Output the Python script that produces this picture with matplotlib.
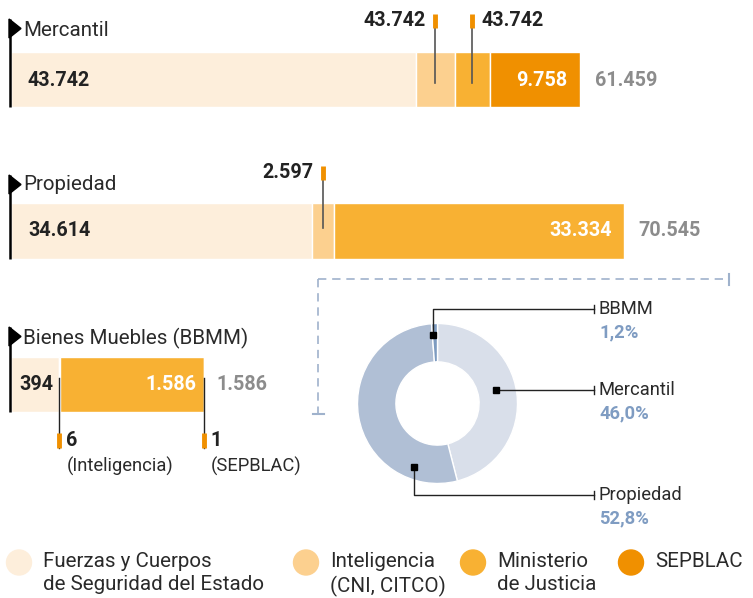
import matplotlib.pyplot as plt
from matplotlib.patches import Polygon, Ellipse
from matplotlib.transforms import blended_transform_factory as blend

W, H = 753, 598
plt.rcParams["font.family"] = ["Roboto", "DejaVu Sans"]

# Data
agencies = ["Fuerzas y Cuerpos\nde Seguridad del Estado", "Inteligencia\n(CNI, CITCO)",
            "Ministerio\nde Justicia", "SEPBLAC"]
agency_colors = ["#fdeedb", "#fcd08f", "#f8b133", "#f09000"]

registries = ["Mercantil", "Propiedad", "Bienes Muebles (BBMM)"]
pie_names = ["Mercantil", "Propiedad", "BBMM"]
mercantil = [43742, 4190, 3769, 9758]
propiedad = [34614, 2597, 33334, 0]
bbmm = [394, 6, 1185, 1]
totals = [61459, 70545, 1586]

# printed labels (as shown in the source graphic)
mercantil_labels = ["43.742", "43.742", "43.742", "9.758"]
propiedad_labels = ["34.614", "2.597", "33.334", ""]
bbmm_labels = ["394", "6", "1.586", "1"]
total_labels = ["61.459", "70.545", "1.586"]
pie_colors = ["#d9dfea", "#b0bfd5", "#7d9bc0"]

GRAY = "#8c8c8c"
BLUE = "#7f9cc2"
DARK = "#222222"
TXT = "#2a2a2a"
NUM = 14.2

fig = plt.figure(figsize=(W / 100, H / 100), dpi=100)

# overlay axes in pixel coordinates
ax0 = fig.add_axes([0, 0, 1, 1])
ax0.set_xlim(0, W)
ax0.set_ylim(H, 0)
ax0.axis("off")
ax0.set_zorder(10)
ax0.patch.set_visible(False)


def px_axes(x, y, w, h):
    return fig.add_axes([x / W, 1 - (y + h) / H, w / W, h / H])


def draw_bar(values, box):
    ax = px_axes(*box)
    left = 0
    for v, c in zip(values, agency_colors):
        if v > 0:
            ax.barh(0.5, v, left=left, height=1, color=c, edgecolor="white", linewidth=1)
        left += v
    ax.set_xlim(0, sum(values))
    ax.set_ylim(0, 1)
    ax.axis("off")
    return ax


def seg_center(values, i):
    return sum(values[:i]) + values[i] / 2


def flag(top, bottom, title, ty):
    ax0.plot([10, 10], [top, bottom], color="black", lw=1.8, solid_capstyle="butt")
    ax0.add_patch(Polygon([(9, top), (9, top + 19), (21, top + 9.5)], closed=True, color="black"))
    ax0.text(23, ty, title, fontsize=14.8, color=TXT, va="center", ha="left")


def end_labels(ax, values, y, inner, total, inner_end, pad_in, pad_out):
    tr = (ax.transData, ax0.transData)
    ax0.annotate(inner, xy=(inner_end, y), xycoords=tr, xytext=(-pad_in, 0),
                 textcoords="offset points", ha="right", va="center",
                 fontsize=NUM, fontweight="bold", color="white")
    ax0.annotate(total, xy=(sum(values), y), xycoords=tr, xytext=(pad_out, 0),
                 textcoords="offset points", ha="left", va="center",
                 fontsize=NUM, fontweight="bold", color=GRAY)


# ---- Mercantil
axm = draw_bar(mercantil, (11, 52, 569, 55))
flag(19, 107, registries[0], 30)
ax0.text(28, 80, mercantil_labels[0], fontsize=NUM, fontweight="bold", color=DARK, va="center")
end_labels(axm, mercantil, 80, mercantil_labels[3], total_labels[0], sum(mercantil), 9, 11)

# ---- Propiedad
axp = draw_bar(propiedad, (11, 203, 613, 56))
flag(175, 259, registries[1], 185)
ax0.text(28, 231, propiedad_labels[0], fontsize=NUM, fontweight="bold", color=DARK, va="center")
end_labels(axp, propiedad, 231, propiedad_labels[2], total_labels[1], sum(propiedad), 9, 10)

# ---- BBMM
axb = draw_bar(bbmm, (11, 357, 193, 55))
flag(327, 412, registries[2], 338)
ax0.text(19, 385, bbmm_labels[0], fontsize=NUM, fontweight="bold", color=DARK, va="center")
end_labels(axb, bbmm, 385, bbmm_labels[2], total_labels[2], sum(bbmm[:3]), 5, 9)

# ---- callouts above bars
up_callouts = [
    (axm, seg_center(mercantil, 1), 14, 83, mercantil_labels[1], "left"),
    (axm, seg_center(mercantil, 2), 14, 83, mercantil_labels[2], "right"),
    (axp, seg_center(propiedad, 1), 166, 228, propiedad_labels[1], "left"),
]
for ax, xc, yt, yb, lab, side in up_callouts:
    tr = blend(ax.transData, ax0.transData)
    ax0.plot([xc, xc], [yt + 13, yb], color="#555555", lw=1.2, transform=tr, clip_on=False)
    ax0.plot([xc, xc], [yt, yt + 14], color="#f09000", lw=3.5, transform=tr,
             solid_capstyle="butt", clip_on=False)
    dx = -7 if side == "left" else 7
    ax0.annotate(lab, xy=(xc, yt + 7), xycoords=tr, xytext=(dx, 0), textcoords="offset points",
                 ha="right" if side == "left" else "left", va="center",
                 fontsize=NUM, fontweight="bold", color=DARK)

# ---- callouts below BBMM bar
down_callouts = [
    (seg_center(bbmm, 1), bbmm_labels[1], "(Inteligencia)"),
    (seg_center(bbmm, 3), bbmm_labels[3], "(SEPBLAC)"),
]
trb = blend(axb.transData, ax0.transData)
for xc, num, name in down_callouts:
    ax0.plot([xc, xc], [378, 448], color=DARK, lw=1.0, transform=trb, clip_on=False)
    ax0.plot([xc, xc], [433, 448], color="#f09000", lw=3.5, transform=trb,
             solid_capstyle="butt", clip_on=False)
    ax0.annotate(num, xy=(xc, 441), xycoords=trb, xytext=(5, 0), textcoords="offset points",
                 ha="left", va="center", fontsize=NUM, fontweight="bold", color=DARK)
    ax0.annotate(name, xy=(xc, 466), xycoords=trb, xytext=(5, 0), textcoords="offset points",
                 ha="left", va="center", fontsize=13.2, color=TXT)

# ---- dashed bracket
BR = "#9fb2cc"
ax0.plot([318, 729], [279, 279], color=BR, lw=1.2, ls=(0, (5, 3.5)))
ax0.plot([318, 318], [279, 413], color=BR, lw=1.2, ls=(0, (5, 3.5)))
ax0.plot([729, 729], [274, 285], color=BR, lw=1.5)
ax0.plot([313, 324], [414, 414], color=BR, lw=1.5)

# ---- donut
axd = px_axes(357.5, 323.5, 160, 160)
axd.pie(totals, colors=pie_colors, startangle=90, counterclock=False, radius=1,
        wedgeprops=dict(width=0.48, edgecolor="white", linewidth=1))
axd.set_xlim(-1, 1)
axd.set_ylim(-1, 1)
axd.set_aspect("equal")

pct = [f"{v / sum(totals) * 100:.1f}".replace(".", ",") + "%" for v in totals]
# leader paths: marker, label row
leaders = [
    ((496, 390), 390),
    ((414, 467), 495),
    ((433, 335), 309),
]
for (m, ly), name, p in zip(leaders, pie_names, pct):
    ax0.plot([m[0], m[0], 594], [m[1], ly, ly], color=DARK, lw=1.0)
    ax0.plot([594, 594], [ly - 4, ly + 4], color=DARK, lw=1.0)
    ax0.plot(m[0], m[1], marker="s", ms=5, color="black")
    ax0.text(599, ly, name, fontsize=13.2, color=TXT, va="center", ha="left")
    ax0.text(599, ly + 23, p, fontsize=13.2, color=BLUE, va="center", ha="left", fontweight="bold")

# ---- legend
leg_x = [19, 306, 473, 631]
for x, lab, c in zip(leg_x, agencies, agency_colors):
    ax0.add_patch(Ellipse((x, 562.5), 25, 25, color=c))
    ax0.text(x + 24, 552, lab, fontsize=14.8, color=TXT, va="top", ha="left", linespacing=1.3)

fig.savefig("out.png", dpi=100)
